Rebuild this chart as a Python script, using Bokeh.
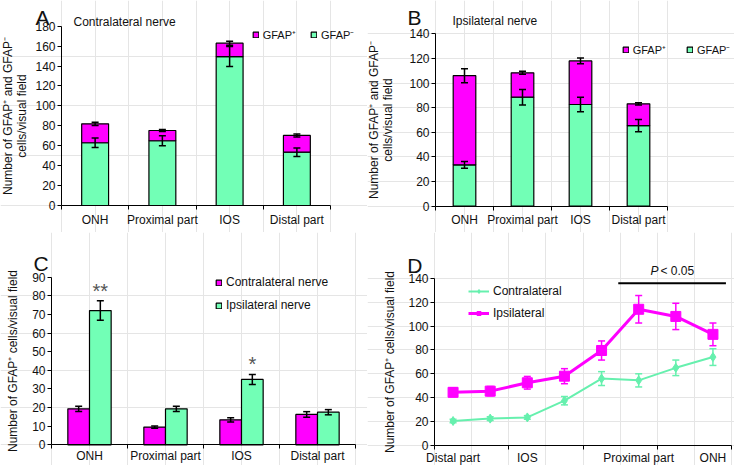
from bokeh.plotting import figure
from bokeh.models import (ColumnDataSource, Whisker, TeeHead, Legend, LegendItem, Label,
                          FixedTicker, SingleIntervalTicker, LinearAxis)
from bokeh.layouts import row, column
from bokeh.core.properties import value
from bokeh.embed import file_html
from bokeh.resources import INLINE

# ---------------- data ----------------
sites = ["ONH", "Proximal part", "IOS", "Distal part"]

# A: contralateral nerve (stacked: GFAP- bottom, total top)
a_neg = [63, 65, 149.5, 53.5]
a_neg_err = [4.7, 5, 10, 4.2]
a_total = [82, 75.3, 163, 70.3]
a_total_err = [1.7, 1, 2, 1.5]

# B: ipsilateral nerve
b_neg = [33.6, 88.5, 82.6, 65.5]
b_neg_err = [2.7, 6.3, 5.8, 5]
b_total = [106, 108.3, 118, 83.1]
b_total_err = [5.7, 1.2, 2.4, 1]

# C: GFAP+ cells
c_contra = [19.3, 9.5, 13.4, 16.3]
c_contra_err = [1.4, 0.6, 1.1, 1.5]
c_ipsi = [72.1, 19.3, 35.1, 17.5]
c_ipsi_err = [5.2, 1.4, 2.7, 1.4]
c_sig = ["**", "", "*", ""]

# D: GFAP+ cells along the nerve
d_tick_labels = ["Distal part", "", "IOS", "", "", "Proximal part", "", "ONH"]
d_contra = [20.5, 22.5, 23.5, 37.5, 56, 54.5, 65, 74]
d_contra_err = [1.5, 1.5, 1.5, 3.5, 5.8, 5.5, 6.5, 7]
d_ipsi = [44.5, 45.5, 52.5, 58, 79.5, 114, 108, 93]
d_ipsi_err = [3.8, 3.9, 5.3, 6.3, 8, 11.5, 11, 9.5]
d_sig_span = [4.95, 7.85]
d_sig_level = 135.8

# ---------------- style ----------------
MAG = "#FF00FF"
GRN = "#72FFB6"
GRN_LINE = "#66F0AE"
FONT = "Liberation Sans"
TXT = "#111111"
YLAB2 = "Number of GFAP\u207a and GFAP\u207b\ncells/visual field"
YLAB1 = "Number of GFAP\u207a cells/visual field"


class Panel:
    """Figure whose frame fills the canvas; axes are pinned at data 0."""

    def __init__(self, ox, oy, w, h, xlim, ylim, xpx, ypx):
        self.ox, self.oy, self.w, self.h = ox, oy, w, h
        (x0, x1), (y0, y1) = xlim, ylim
        self.sx = (xpx[1] - xpx[0]) / (x1 - x0)
        self.sy = (ypx[0] - ypx[1]) / (y1 - y0)
        self.xpx0, self.ypx0, self.x0, self.y0 = xpx[0], ypx[0], x0, y0
        xs_ = x0 - (xpx[0] - ox) / self.sx
        xe_ = x1 + (ox + w - xpx[1]) / self.sx
        ys_ = y0 - (oy + h - ypx[0]) / self.sy
        ye_ = y1 + (ypx[1] - oy) / self.sy
        p = figure(width=w, height=h, x_range=(xs_, xe_), y_range=(ys_, ye_),
                   output_backend="svg", toolbar_location=None,
                   x_axis_location=None, y_axis_location=None,
                   min_border_left=0, min_border_right=0, min_border_top=0,
                   min_border_bottom=0)
        p.outline_line_color = None
        p.background_fill_color = "white"
        p.border_fill_color = "white"
        self.p = p
        self.xlim, self.ylim = xlim, ylim

    def X(self, px):
        return self.x0 + (px - self.xpx0) / self.sx

    def Y(self, py):
        return self.y0 + (self.ypx0 - py) / self.sy

    def style_axis(self, ax):
        ax.axis_line_color = "black"
        ax.axis_line_width = 1
        ax.major_tick_line_color = "black"
        ax.minor_tick_line_color = "black"
        ax.major_label_text_font = FONT
        ax.major_label_text_font_size = "12px"
        ax.major_label_text_color = TXT
        ax.axis_label_text_font = FONT
        ax.axis_label_text_font_size = "12px"
        ax.axis_label_text_font_style = "normal"
        ax.axis_label_text_color = TXT

    def cat_xaxis(self, labels, boundaries, standoff):
        ticks = [i + 0.5 for i, l in enumerate(labels) if l]
        ax = LinearAxis(fixed_location=self.ylim[0], bounds=self.xlim,
                        ticker=FixedTicker(ticks=ticks, minor_ticks=boundaries))
        self.style_axis(ax)
        ax.major_label_overrides = {i + 0.5: l for i, l in enumerate(labels) if l}
        ax.major_tick_out = 0
        ax.major_tick_in = 0
        ax.minor_tick_out = 4
        ax.minor_tick_in = 0
        ax.major_label_standoff = standoff
        self.p.add_layout(ax, "below")

    def num_yaxis(self, interval, label, standoff):
        ax = LinearAxis(fixed_location=self.xlim[0], bounds=self.ylim,
                        ticker=SingleIntervalTicker(interval=interval, num_minor_ticks=0))
        self.style_axis(ax)
        ax.major_tick_out = 4
        ax.major_tick_in = 0
        ax.minor_tick_out = 0
        ax.minor_tick_in = 0
        ax.major_label_standoff = 2
        ax.axis_label = label
        ax.axis_label_standoff = standoff
        ax.axis_label_text_line_height = 1.0
        self.p.add_layout(ax, "left")

    def label(self, px, py, text, size="12px", style="normal", x_offset=0,
              baseline="alphabetic"):
        self.p.add_layout(Label(x=self.X(px), y=self.Y(py), text=text, x_offset=x_offset,
                                text_font=FONT, text_font_size=size,
                                text_font_style=style, text_color=TXT,
                                text_baseline=baseline))

    def legend(self, items, left_px, bottom_px, orientation, spacing, font="12px",
               gw=7, gh=7):
        self.p.add_layout(Legend(
            items=items, location=(left_px - self.ox, self.oy + self.h - bottom_px),
            orientation=orientation, glyph_width=gw, glyph_height=gh, label_standoff=4,
            spacing=spacing, padding=0, margin=0, border_line_color=None,
            background_fill_alpha=0, label_text_font=FONT, label_text_font_size=font,
            label_text_color=TXT, label_height=12))


def add_err(p, x, y, e, color="black", size=7, lw=1.5):
    src = ColumnDataSource(dict(x=x, lo=[a - b for a, b in zip(y, e)],
                                hi=[a + b for a, b in zip(y, e)]))
    p.add_layout(Whisker(base="x", lower="lo", upper="hi", source=src, line_color=color,
                         line_width=lw, level="overlay",
                         upper_head=TeeHead(size=size, line_color=color, line_width=lw),
                         lower_head=TeeHead(size=size, line_color=color, line_width=lw)))


xs = [i + 0.5 for i in range(len(sites))]
bounds4 = list(range(len(sites) + 1))
BAR = dict(line_color="black", line_width=1.2)

# ---------------- panel A ----------------
A = Panel(0, 0, 367, 232, (0, 4), (0, 180), (61, 330), (205, 25.7))
A.cat_xaxis(sites, bounds4, 3)
A.num_yaxis(20, YLAB2, 3)
pA = A.p
rA_neg = pA.vbar(x=xs, bottom=0, top=a_neg, width=0.4, fill_color=GRN, **BAR)
rA_pos = pA.vbar(x=xs, bottom=a_neg, top=a_total, width=0.4, fill_color=MAG, **BAR)
add_err(pA, xs, a_neg, a_neg_err)
add_err(pA, xs, a_total, a_total_err)
A.legend([LegendItem(label="GFAP\u207a", renderers=[rA_pos]),
          LegendItem(label="GFAP\u207b", renderers=[rA_neg])],
         251.7, 42, "horizontal", 14, font="11px")
A.label(35, 16.7, "A", size="21px")
A.label(73, 21.5, "Contralateral nerve")

# ---------------- panel B ----------------
B = Panel(367, 0, 367, 232, (0, 4), (0, 140), (435, 667), (205.7, 33.3))
B.cat_xaxis(sites, bounds4, 3)
B.num_yaxis(20, YLAB2, 11)
pB = B.p
rB_neg = pB.vbar(x=xs, bottom=0, top=b_neg, width=0.39, fill_color=GRN, **BAR)
rB_pos = pB.vbar(x=xs, bottom=b_neg, top=b_total, width=0.39, fill_color=MAG, **BAR)
add_err(pB, xs, b_neg, b_neg_err)
add_err(pB, xs, b_total, b_total_err)
B.legend([LegendItem(label="GFAP\u207a", renderers=[rB_pos]),
          LegendItem(label="GFAP\u207b", renderers=[rB_neg])],
         621.7, 57, "horizontal", 20, font="11px")
B.label(407, 16.7, "B", size="21px")
B.label(452, 20.5, "Ipsilateral nerve")

# ---------------- panel C ----------------
C = Panel(0, 232, 367, 233, (0, 4), (0, 90), (51, 355), (444.3, 276.7))
C.cat_xaxis(sites, bounds4, 0)
C.num_yaxis(10, YLAB1, 9)
pC = C.p
bw = 0.285
xc1 = [x - bw / 2 for x in xs]
xc2 = [x + bw / 2 for x in xs]
rC1 = pC.vbar(x=xc1, bottom=0, top=c_contra, width=bw, fill_color=MAG, **BAR)
rC2 = pC.vbar(x=xc2, bottom=0, top=c_ipsi, width=bw, fill_color=GRN, **BAR)
add_err(pC, xc1, c_contra, c_contra_err)
add_err(pC, xc2, c_ipsi, c_ipsi_err)
pC.text(x=xc2, y=[v + e + 5.5 for v, e in zip(c_ipsi, c_ipsi_err)], text=c_sig,
        text_font=value(FONT), text_font_size="20px", text_color="#555555",
        text_align="center", text_baseline="middle")
C.legend([LegendItem(label="Contralateral nerve", renderers=[rC1]),
          LegendItem(label="Ipsilateral nerve", renderers=[rC2])],
         215, 312, "vertical", 9)
C.label(33, 263.3, "C", size="21px")

# ---------------- panel D ----------------
nD = len(d_contra)
xd = [i + 0.5 for i in range(nD)]
D = Panel(367, 232, 367, 233, (0, nD), (0, 140), (434, 731), (445, 277.7))
D.cat_xaxis(d_tick_labels, list(range(0, nD + 1, 2)), 1)
D.num_yaxis(20, YLAB1, 8)
pD = D.p
add_err(pD, xd, d_contra, d_contra_err, color=GRN_LINE, size=7, lw=1.5)
add_err(pD, xd, d_ipsi, d_ipsi_err, color=MAG, size=7, lw=1.5)
lC = pD.line(xd, d_contra, line_color=GRN_LINE, line_width=2)
sC = pD.scatter(xd, d_contra, marker="diamond", size=9, fill_color=GRN_LINE,
                line_color=GRN_LINE)
lI = pD.line(xd, d_ipsi, line_color=MAG, line_width=3)
sI = pD.scatter(xd, d_ipsi, marker="square", size=10, fill_color=MAG, line_color=MAG)
pD.line(d_sig_span, [d_sig_level, d_sig_level], line_color="black", line_width=2)
D.legend([LegendItem(label="Contralateral", renderers=[lC, sC]),
          LegendItem(label="Ipsilateral", renderers=[lI, sI])],
         468, 320.3, "vertical", 8, gw=21, gh=10)
D.label(406.7, 265, "D", size="21px")
D.label(650, 270, "P", style="italic", baseline="middle")
D.label(650, 270, "< 0.05", x_offset=10, baseline="middle")

layout = column(row(pA, pB), row(pC, pD))
open("out.html", "w").write(file_html(layout, INLINE))
